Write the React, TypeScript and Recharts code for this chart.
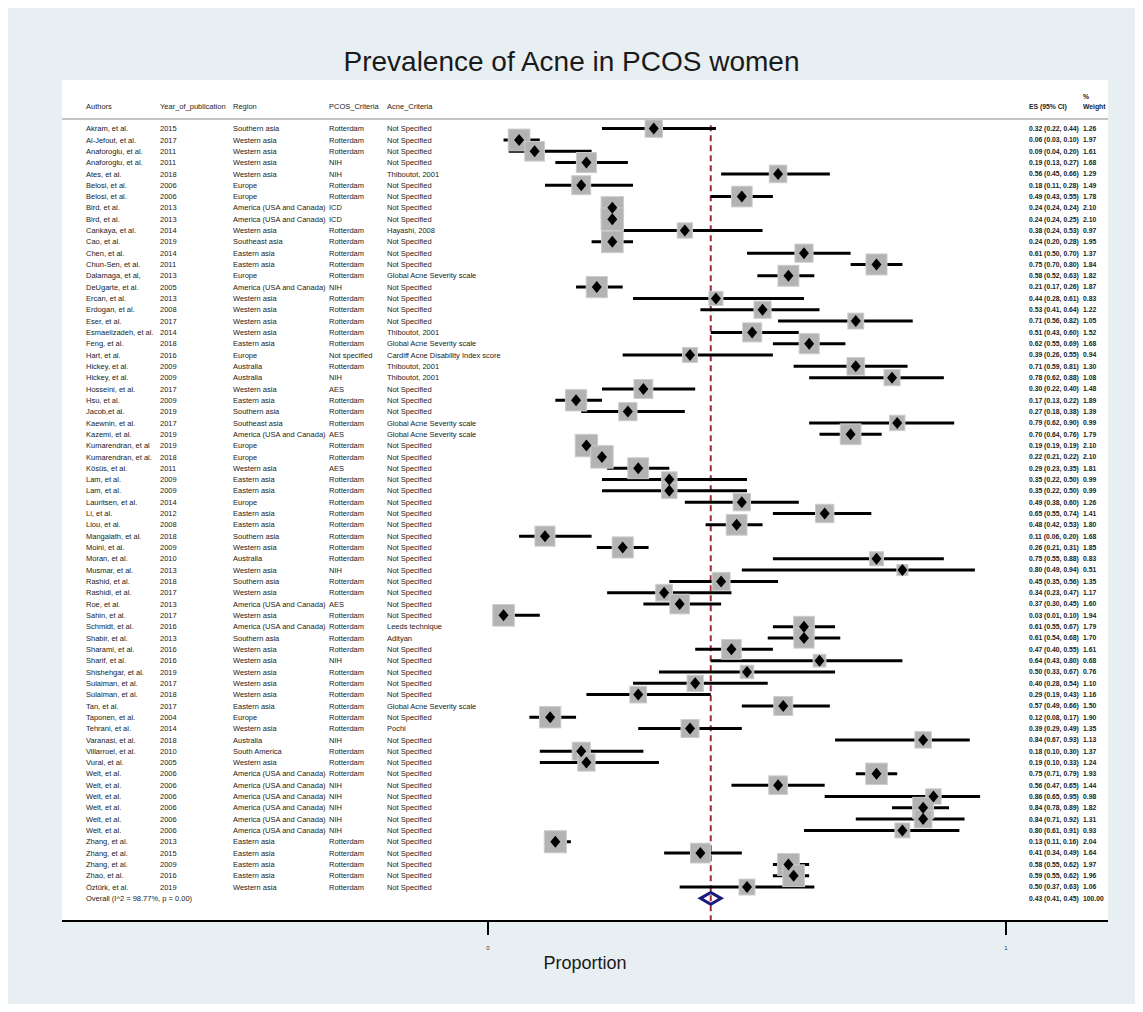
import { ComposedChart, ErrorBar, ReferenceLine, Scatter, XAxis, YAxis } from "recharts";

// study columns
const AUTHORS = [
  "Akram, et al.", "Al-Jefout, et al.", "Anaforoglu, et al.", "Anaforoglu, et al.", "Ates, et al.",
  "Belosi, et al.", "Belosi, et al.", "Bird, et al.", "Bird, et al.", "Cankaya, et al.",
  "Cao, et al.", "Chen, et al.", "Chun-Sen, et al.", "Dalamaga, et al,", "DeUgarte, et al.",
  "Ercan, et al.", "Erdogan, et al.", "Eser, et al.", "Esmaeilzadeh, et al.", "Feng, et al.",
  "Hart, et al.", "Hickey, et al.", "Hickey, et al.", "Hosseini, et al.", "Hsu, et al.",
  "Jacob,et al.", "Kaewnin, et al.", "Kazemi, et al.", "Kumarendran, et al", "Kumarendran, et al.",
  "Kösüs, et al.", "Lam, et al.", "Lam, et al.", "Lauritsen, et al.", "Li, et al.",
  "Liou, et al.", "Mangalath, et al.", "Moini, et al.", "Moran, et al.", "Musmar, et al.",
  "Rashid, et al.", "Rashidi, et al.", "Roe, et al.", "Sahin, et al.", "Schmidt, et al.",
  "Shabir, et al.", "Sharami, et al.", "Sharif, et al.", "Shishehgar, et al.", "Sulaiman, et al.",
  "Sulaiman, et al.", "Tan, et al.", "Taponen, et al.", "Tehrani, et al.", "Varanasi, et al.",
  "Villarroel, et al.", "Vural, et al.", "Welt, et al.", "Welt, et al.", "Welt, et al.",
  "Welt, et al.", "Welt, et al.", "Welt, et al.", "Zhang, et al.", "Zhang, et al.",
  "Zhang, et al.", "Zhao, et al.", "Öztürk, et al.",
];

const YEARS = [
  2015, 2017, 2011, 2011, 2018, 2006, 2006, 2013, 2013, 2014,
  2019, 2014, 2011, 2013, 2005, 2013, 2008, 2017, 2014, 2018,
  2016, 2009, 2009, 2017, 2009, 2019, 2017, 2019, 2019, 2018,
  2011, 2009, 2009, 2014, 2012, 2008, 2018, 2009, 2010, 2013,
  2018, 2017, 2013, 2017, 2016, 2013, 2016, 2016, 2019, 2017,
  2018, 2017, 2004, 2014, 2018, 2010, 2005, 2006, 2006, 2006,
  2006, 2006, 2006, 2013, 2015, 2009, 2016, 2019,
];

const SA = "Southern asia";
const WA = "Western asia";
const EU = "Europe";
const AM = "America (USA and Canada)";
const EA = "Eastern asia";
const SEA = "Southeast asia";
const AU = "Australia";
const REGIONS = [
  SA, WA, WA, WA, WA, EU, EU, AM, AM, WA,
  SEA, EA, EA, EU, AM, WA, WA, WA, WA, EA,
  EU, AU, AU, WA, EA, SA, SEA, AM, EU, EU,
  WA, EA, EA, EU, EA, EA, SA, WA, AU, WA,
  SA, WA, AM, WA, AM, SA, WA, WA, WA, WA,
  WA, EA, EU, WA, AU, "South America", WA, AM, AM, AM,
  AM, AM, AM, EA, EA, EA, EA, WA,
];

const R = "Rotterdam";
const PCOS = [
  R, R, R, "NIH", "NIH", R, R, "ICD", "ICD", R,
  R, R, R, R, "NIH", R, R, R, R, R,
  "Not specified", R, "NIH", "AES", R, R, R, "AES", R, R,
  "AES", R, R, R, R, R, R, R, R, "NIH",
  R, R, "AES", R, R, R, R, "NIH", R, R,
  R, R, R, R, "NIH", R, R, R, "NIH", "NIH",
  "NIH", "NIH", "NIH", R, R, R, R, R,
];

const NS = "Not Specified";
const TH = "Thiboutot, 2001";
const GA = "Global Acne Severity scale";
const ACNE = [
  NS, NS, NS, NS, TH, NS, NS, NS, NS, "Hayashi, 2008",
  NS, NS, NS, GA, NS, NS, NS, NS, TH, GA,
  "Cardiff Acne Disability Index score", TH, TH, NS, NS, NS, GA, GA, NS, NS,
  NS, NS, NS, NS, NS, NS, NS, NS, NS, NS,
  NS, NS, NS, NS, "Leeds technique", "Adityan", NS, NS, NS, NS,
  NS, GA, NS, "Pochi", NS, NS, NS, NS, NS, NS,
  NS, NS, NS, NS, NS, NS, NS, NS,
];

const ES = [
  0.32, 0.06, 0.09, 0.19, 0.56, 0.18, 0.49, 0.24, 0.24, 0.38,
  0.24, 0.61, 0.75, 0.58, 0.21, 0.44, 0.53, 0.71, 0.51, 0.62,
  0.39, 0.71, 0.78, 0.3, 0.17, 0.27, 0.79, 0.7, 0.19, 0.22,
  0.29, 0.35, 0.35, 0.49, 0.65, 0.48, 0.11, 0.26, 0.75, 0.8,
  0.45, 0.34, 0.37, 0.03, 0.61, 0.61, 0.47, 0.64, 0.5, 0.4,
  0.29, 0.57, 0.12, 0.39, 0.84, 0.18, 0.19, 0.75, 0.56, 0.86,
  0.84, 0.84, 0.8, 0.13, 0.41, 0.58, 0.59, 0.5,
];

const LO = [
  0.22, 0.03, 0.04, 0.13, 0.45, 0.11, 0.43, 0.24, 0.24, 0.24,
  0.2, 0.5, 0.7, 0.52, 0.17, 0.28, 0.41, 0.56, 0.43, 0.55,
  0.26, 0.59, 0.62, 0.22, 0.13, 0.18, 0.62, 0.64, 0.19, 0.21,
  0.23, 0.22, 0.22, 0.38, 0.55, 0.42, 0.06, 0.21, 0.55, 0.49,
  0.35, 0.23, 0.3, 0.01, 0.55, 0.54, 0.4, 0.43, 0.33, 0.28,
  0.19, 0.49, 0.08, 0.29, 0.67, 0.1, 0.1, 0.71, 0.47, 0.65,
  0.78, 0.71, 0.61, 0.11, 0.34, 0.55, 0.55, 0.37,
];

const HI = [
  0.44, 0.1, 0.2, 0.27, 0.66, 0.28, 0.55, 0.24, 0.25, 0.53,
  0.28, 0.7, 0.8, 0.63, 0.26, 0.61, 0.64, 0.82, 0.6, 0.69,
  0.55, 0.81, 0.88, 0.4, 0.22, 0.38, 0.9, 0.76, 0.19, 0.22,
  0.35, 0.5, 0.5, 0.6, 0.74, 0.53, 0.2, 0.31, 0.88, 0.94,
  0.56, 0.47, 0.45, 0.1, 0.67, 0.68, 0.55, 0.8, 0.67, 0.54,
  0.43, 0.66, 0.17, 0.49, 0.93, 0.3, 0.33, 0.79, 0.65, 0.95,
  0.89, 0.92, 0.91, 0.16, 0.49, 0.62, 0.62, 0.63,
];

const WEIGHTS = [
  1.26, 1.97, 1.61, 1.68, 1.29, 1.49, 1.78, 2.1, 2.1, 0.97,
  1.95, 1.37, 1.84, 1.82, 1.87, 0.83, 1.22, 1.05, 1.52, 1.68,
  0.94, 1.3, 1.08, 1.48, 1.89, 1.39, 0.99, 1.79, 2.1, 2.1,
  1.81, 0.99, 0.99, 1.26, 1.41, 1.8, 1.68, 1.85, 0.83, 0.51,
  1.35, 1.17, 1.6, 1.94, 1.79, 1.7, 1.61, 0.68, 0.76, 1.1,
  1.16, 1.5, 1.9, 1.35, 1.13, 1.37, 1.24, 1.93, 1.44, 0.98,
  1.82, 1.31, 0.93, 2.04, 1.64, 1.97, 1.96, 1.06,
];

const OVERALL_LABEL = "Overall  (I^2 = 98.77%, p = 0.00)";
const OVERALL_ES = 0.43;
const OVERALL_LO = 0.41;
const OVERALL_HI = 0.45;
const OVERALL_WEIGHT = 100;

const X_TICKS = [0, 1];

// layout (chart coords)
const W = 1127;
const H = 996;
const PLOT_L = 54;
const PLOT_R = 1100;
const ZERO_X = 480;
const ONE_X = 998;
const PX = ONE_X - ZERO_X;
const X_DOMAIN = [(PLOT_L - ZERO_X) / PX, (PLOT_R - ZERO_X) / PX];
const N = AUTHORS.length;
const OVERALL_ROW = N + 1;
const Y_DOMAIN = [0.15, OVERALL_ROW + 2];
const FONT = "'Liberation Sans', Arial, Helvetica, sans-serif";
const COL = { author: 78, year: 152, region: 225, pcos: 321, acne: 379, es: 1021, wt: 1075 };
const BOX_K = 15.5;
const LEFT_FS = 7.5;
const RIGHT_FS = 6.8;

const fmt = (v: number) => v.toFixed(2);

const rows = AUTHORS.map((a, i) => ({
  row: i + 1,
  es: ES[i],
  err: [ES[i] - LO[i], HI[i] - ES[i]],
  w: WEIGHTS[i],
}));
const overall = [{ row: OVERALL_ROW, es: OVERALL_ES, lo: OVERALL_LO, hi: OVERALL_HI }];

// one text line per row, built from the column arrays
const labelRows = [
  ...AUTHORS.map((a, i) => ({
    row: i + 1,
    es: ES[i],
    cells: [a, String(YEARS[i]), REGIONS[i], PCOS[i], ACNE[i]],
    right: [`${fmt(ES[i])} (${fmt(LO[i])}, ${fmt(HI[i])})`, fmt(WEIGHTS[i])],
  })),
  {
    row: OVERALL_ROW,
    es: OVERALL_ES,
    cells: [OVERALL_LABEL, "", "", "", ""],
    right: [`${fmt(OVERALL_ES)} (${fmt(OVERALL_LO)}, ${fmt(OVERALL_HI)})`, OVERALL_WEIGHT.toFixed(2)],
  },
];

const LEFT_COLS = [COL.author, COL.year, COL.region, COL.pcos, COL.acne];
const RIGHT_COLS = [COL.es, COL.wt];

function RowText(props: any) {
  const { cy, payload } = props;
  return (
    <g fontFamily={FONT} fill="#222">
      {payload.cells.map((s: string, k: number) => (
        <text key={k} x={LEFT_COLS[k]} y={cy} dy="0.35em" fontSize={LEFT_FS}>
          {s}
        </text>
      ))}
      {payload.right.map((s: string, k: number) => (
        <text key={"r" + k} x={RIGHT_COLS[k]} y={cy} dy="0.35em" fontSize={RIGHT_FS} fontWeight="bold">
          {s}
        </text>
      ))}
    </g>
  );
}

function Box(props: any) {
  const { cx, cy, payload } = props;
  const s = BOX_K * Math.sqrt(payload.w);
  return <rect x={cx - s / 2} y={cy - s / 2} width={s} height={s} fill="#b3b3b3" stroke="#cdcdcd" strokeWidth={1} />;
}

function Diamond(props: any) {
  const { cx, cy } = props;
  return <polygon points={`${cx},${cy - 6} ${cx + 5},${cy} ${cx},${cy + 6} ${cx - 5},${cy}`} fill="#000" />;
}

function OverallDiamond(props: any) {
  const { cx, cy, payload } = props;
  const l = cx - (payload.es - payload.lo) * PX;
  const r = cx + (payload.hi - payload.es) * PX;
  return (
    <polygon
      points={`${l},${cy} ${cx},${cy - 6} ${r},${cy} ${cx},${cy + 6}`}
      fill="none"
      stroke="#1b1b7e"
      strokeWidth={3}
    />
  );
}

const headerStyle: React.CSSProperties = {
  position: "absolute",
  fontFamily: FONT,
  fontSize: LEFT_FS,
  color: "#222",
  lineHeight: "10px",
  whiteSpace: "nowrap",
};
const rightHead: React.CSSProperties = { ...headerStyle, fontSize: RIGHT_FS, fontWeight: "bold" };

export default function App() {
  return (
    <div style={{ position: "relative", width: W, height: H, background: "#e8eff2", fontFamily: FONT }}>
      <div style={{ position: "absolute", left: PLOT_L, top: 72, width: PLOT_R - PLOT_L, height: 841, background: "#fff" }} />
      <div
        style={{
          position: "absolute",
          left: 0,
          width: W,
          top: 37,
          textAlign: "center",
          fontSize: 28,
          lineHeight: "34px",
          color: "#1a1a1a",
        }}
      >
        Prevalence of Acne in PCOS women
      </div>
      <div style={{ ...headerStyle, left: COL.author, top: 94 }}>Authors</div>
      <div style={{ ...headerStyle, left: COL.year, top: 94 }}>Year_of_publication</div>
      <div style={{ ...headerStyle, left: COL.region, top: 94 }}>Region</div>
      <div style={{ ...headerStyle, left: COL.pcos, top: 94 }}>PCOS_Criteria</div>
      <div style={{ ...headerStyle, left: COL.acne, top: 94 }}>Acne_Criteria</div>
      <div style={{ ...rightHead, left: COL.es, top: 94 }}>ES (95% CI)</div>
      <div style={{ ...rightHead, left: COL.wt, top: 84 }}>%</div>
      <div style={{ ...rightHead, left: COL.wt, top: 94 }}>Weight</div>
      <div style={{ position: "absolute", left: 0, top: 0 }}>
        <ComposedChart width={W} height={H} margin={{ top: 111, right: W - PLOT_R, bottom: 33, left: PLOT_L }}>
          <XAxis
            type="number"
            dataKey="es"
            domain={X_DOMAIN}
            allowDataOverflow
            ticks={X_TICKS}
            interval={0}
            height={50}
            tickSize={14}
            tickMargin={11}
            axisLine={{ stroke: "#000", strokeWidth: 2 }}
            tickLine={{ stroke: "#000", strokeWidth: 2 }}
            tick={{ fontSize: 6, fill: "#333", fontFamily: FONT }}
            label={{ value: "Proportion", position: "insideBottom", offset: 2, fontSize: 18, fill: "#1a1a1a", fontFamily: FONT }}
          />
          <YAxis type="number" dataKey="row" domain={Y_DOMAIN} allowDataOverflow reversed hide />
          <ReferenceLine y={Y_DOMAIN[0]} stroke="#c4c4c4" strokeWidth={2} ifOverflow="visible" />
          <Scatter data={labelRows} shape={<RowText />} isAnimationActive={false} />
          <Scatter data={rows} shape={<Box />} isAnimationActive={false} />
          <ReferenceLine
            segment={[
              { x: OVERALL_ES, y: 0.7 },
              { x: OVERALL_ES, y: Y_DOMAIN[1] },
            ]}
            stroke="#9e2a36"
            strokeWidth={2}
            strokeDasharray="6 4"
            ifOverflow="visible"
          />
          <Scatter data={rows} shape={<Diamond />} isAnimationActive={false}>
            <ErrorBar dataKey="err" direction="x" width={0} stroke="#000" strokeWidth={3} isAnimationActive={false} />
          </Scatter>
          <Scatter data={overall} shape={<OverallDiamond />} isAnimationActive={false} />
        </ComposedChart>
      </div>
    </div>
  );
}
